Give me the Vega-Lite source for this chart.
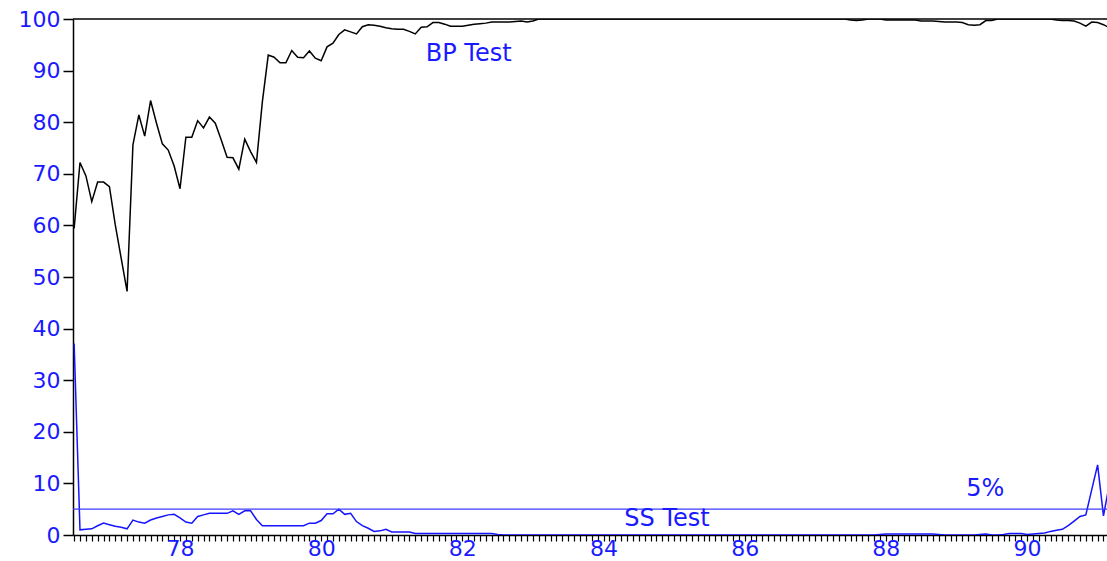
{
  "$schema": "https://vega.github.io/schema/vega-lite/v6.json",
  "width": 1034,
  "height": 516,
  "autosize": "none",
  "padding": {"left": 73, "top": 19, "right": 0, "bottom": 26},
  "background": "white",
  "config": {"view": {"stroke": null}, "axis": {"grid": false, "title": null}},
  "datasets": {
    "series": [
      {"t": 76.5, "bp": 59.4, "ss": 37.1},
      {"t": 76.583, "bp": 72.2, "ss": 1.0},
      {"t": 76.667, "bp": 69.6, "ss": 1.1},
      {"t": 76.75, "bp": 64.6, "ss": 1.2},
      {"t": 76.833, "bp": 68.4, "ss": 1.8},
      {"t": 76.917, "bp": 68.4, "ss": 2.3},
      {"t": 77, "bp": 67.5, "ss": 2.0},
      {"t": 77.083, "bp": 60.1, "ss": 1.7},
      {"t": 77.167, "bp": 53.6, "ss": 1.5},
      {"t": 77.25, "bp": 47.2, "ss": 1.2},
      {"t": 77.333, "bp": 75.6, "ss": 2.9},
      {"t": 77.417, "bp": 81.4, "ss": 2.5},
      {"t": 77.5, "bp": 77.3, "ss": 2.3},
      {"t": 77.583, "bp": 84.2, "ss": 2.9},
      {"t": 77.667, "bp": 79.8, "ss": 3.3},
      {"t": 77.75, "bp": 75.8, "ss": 3.6},
      {"t": 77.833, "bp": 74.6, "ss": 3.9},
      {"t": 77.917, "bp": 71.5, "ss": 4.0},
      {"t": 78, "bp": 67.1, "ss": 3.3},
      {"t": 78.083, "bp": 77.1, "ss": 2.5},
      {"t": 78.167, "bp": 77.1, "ss": 2.3},
      {"t": 78.25, "bp": 80.3, "ss": 3.6},
      {"t": 78.333, "bp": 78.9, "ss": 3.9},
      {"t": 78.417, "bp": 81.0, "ss": 4.2},
      {"t": 78.5, "bp": 79.8, "ss": 4.2},
      {"t": 78.583, "bp": 76.6, "ss": 4.2},
      {"t": 78.667, "bp": 73.2, "ss": 4.2},
      {"t": 78.75, "bp": 73.1, "ss": 4.7},
      {"t": 78.833, "bp": 70.9, "ss": 4.0},
      {"t": 78.917, "bp": 76.7, "ss": 4.7},
      {"t": 79, "bp": 74.3, "ss": 4.7},
      {"t": 79.083, "bp": 72.2, "ss": 3.0},
      {"t": 79.167, "bp": 84.0, "ss": 1.8},
      {"t": 79.25, "bp": 93.0, "ss": 1.8},
      {"t": 79.333, "bp": 92.6, "ss": 1.8},
      {"t": 79.417, "bp": 91.5, "ss": 1.8},
      {"t": 79.5, "bp": 91.5, "ss": 1.8},
      {"t": 79.583, "bp": 93.9, "ss": 1.8},
      {"t": 79.667, "bp": 92.6, "ss": 1.8},
      {"t": 79.75, "bp": 92.5, "ss": 1.8},
      {"t": 79.833, "bp": 93.8, "ss": 2.3},
      {"t": 79.917, "bp": 92.4, "ss": 2.3},
      {"t": 80, "bp": 91.9, "ss": 2.8},
      {"t": 80.083, "bp": 94.6, "ss": 4.1},
      {"t": 80.167, "bp": 95.3, "ss": 4.1},
      {"t": 80.25, "bp": 97.0, "ss": 5.0},
      {"t": 80.333, "bp": 97.9, "ss": 4.0},
      {"t": 80.417, "bp": 97.5, "ss": 4.2},
      {"t": 80.5, "bp": 97.1, "ss": 2.6},
      {"t": 80.583, "bp": 98.5, "ss": 1.8},
      {"t": 80.667, "bp": 98.9, "ss": 1.3},
      {"t": 80.75, "bp": 98.8, "ss": 0.7},
      {"t": 80.833, "bp": 98.6, "ss": 0.8},
      {"t": 80.917, "bp": 98.3, "ss": 1.1},
      {"t": 81, "bp": 98.1, "ss": 0.6},
      {"t": 81.083, "bp": 98.0, "ss": 0.6},
      {"t": 81.167, "bp": 98.0, "ss": 0.6},
      {"t": 81.25, "bp": 97.6, "ss": 0.6},
      {"t": 81.333, "bp": 97.1, "ss": 0.3},
      {"t": 81.417, "bp": 98.4, "ss": 0.3},
      {"t": 81.5, "bp": 98.5, "ss": 0.3},
      {"t": 81.583, "bp": 99.3, "ss": 0.3},
      {"t": 81.667, "bp": 99.3, "ss": 0.3},
      {"t": 81.75, "bp": 99.0, "ss": 0.3},
      {"t": 81.833, "bp": 98.6, "ss": 0.3},
      {"t": 81.917, "bp": 98.6, "ss": 0.3},
      {"t": 82, "bp": 98.6, "ss": 0.3},
      {"t": 82.083, "bp": 98.8, "ss": 0.3},
      {"t": 82.167, "bp": 99.0, "ss": 0.3},
      {"t": 82.25, "bp": 99.1, "ss": 0.3},
      {"t": 82.333, "bp": 99.2, "ss": 0.3},
      {"t": 82.417, "bp": 99.4, "ss": 0.3},
      {"t": 82.5, "bp": 99.4, "ss": 0.1},
      {"t": 82.583, "bp": 99.4, "ss": 0},
      {"t": 82.667, "bp": 99.4, "ss": 0},
      {"t": 82.75, "bp": 99.5, "ss": 0},
      {"t": 82.833, "bp": 99.6, "ss": 0},
      {"t": 82.917, "bp": 99.4, "ss": 0},
      {"t": 83, "bp": 99.6, "ss": 0},
      {"t": 83.083, "bp": 100, "ss": 0},
      {"t": 83.167, "bp": 100, "ss": 0},
      {"t": 83.25, "bp": 100, "ss": 0},
      {"t": 83.333, "bp": 100, "ss": 0},
      {"t": 83.417, "bp": 100, "ss": 0},
      {"t": 83.5, "bp": 100, "ss": 0},
      {"t": 83.583, "bp": 100, "ss": 0},
      {"t": 83.667, "bp": 100, "ss": 0},
      {"t": 83.75, "bp": 100, "ss": 0},
      {"t": 83.833, "bp": 100, "ss": 0},
      {"t": 83.917, "bp": 100, "ss": 0},
      {"t": 84, "bp": 100, "ss": 0},
      {"t": 84.083, "bp": 100, "ss": 0},
      {"t": 84.167, "bp": 100, "ss": 0},
      {"t": 84.25, "bp": 100, "ss": 0},
      {"t": 84.333, "bp": 100, "ss": 0},
      {"t": 84.417, "bp": 100, "ss": 0},
      {"t": 84.5, "bp": 100, "ss": 0},
      {"t": 84.583, "bp": 100, "ss": 0},
      {"t": 84.667, "bp": 100, "ss": 0},
      {"t": 84.75, "bp": 100, "ss": 0},
      {"t": 84.833, "bp": 100, "ss": 0},
      {"t": 84.917, "bp": 100, "ss": 0},
      {"t": 85, "bp": 100, "ss": 0},
      {"t": 85.083, "bp": 100, "ss": 0},
      {"t": 85.167, "bp": 100, "ss": 0},
      {"t": 85.25, "bp": 100, "ss": 0},
      {"t": 85.333, "bp": 100, "ss": 0},
      {"t": 85.417, "bp": 100, "ss": 0},
      {"t": 85.5, "bp": 100, "ss": 0},
      {"t": 85.583, "bp": 100, "ss": 0},
      {"t": 85.667, "bp": 100, "ss": 0},
      {"t": 85.75, "bp": 100, "ss": 0},
      {"t": 85.833, "bp": 100, "ss": 0},
      {"t": 85.917, "bp": 100, "ss": 0},
      {"t": 86, "bp": 100, "ss": 0},
      {"t": 86.083, "bp": 100, "ss": 0},
      {"t": 86.167, "bp": 100, "ss": 0},
      {"t": 86.25, "bp": 100, "ss": 0},
      {"t": 86.333, "bp": 100, "ss": 0},
      {"t": 86.417, "bp": 100, "ss": 0},
      {"t": 86.5, "bp": 100, "ss": 0},
      {"t": 86.583, "bp": 100, "ss": 0},
      {"t": 86.667, "bp": 100, "ss": 0},
      {"t": 86.75, "bp": 100, "ss": 0},
      {"t": 86.833, "bp": 100, "ss": 0},
      {"t": 86.917, "bp": 100, "ss": 0},
      {"t": 87, "bp": 100, "ss": 0},
      {"t": 87.083, "bp": 100, "ss": 0},
      {"t": 87.167, "bp": 100, "ss": 0},
      {"t": 87.25, "bp": 100, "ss": 0},
      {"t": 87.333, "bp": 100, "ss": 0},
      {"t": 87.417, "bp": 100, "ss": 0},
      {"t": 87.5, "bp": 99.8, "ss": 0},
      {"t": 87.583, "bp": 99.7, "ss": 0},
      {"t": 87.667, "bp": 99.8, "ss": 0},
      {"t": 87.75, "bp": 100, "ss": 0},
      {"t": 87.833, "bp": 100, "ss": 0},
      {"t": 87.917, "bp": 100, "ss": 0.1},
      {"t": 88, "bp": 99.8, "ss": 0.2},
      {"t": 88.083, "bp": 99.8, "ss": 0.2},
      {"t": 88.167, "bp": 99.8, "ss": 0.2},
      {"t": 88.25, "bp": 99.8, "ss": 0.2},
      {"t": 88.333, "bp": 99.8, "ss": 0.2},
      {"t": 88.417, "bp": 99.8, "ss": 0.2},
      {"t": 88.5, "bp": 99.6, "ss": 0.2},
      {"t": 88.583, "bp": 99.6, "ss": 0.2},
      {"t": 88.667, "bp": 99.6, "ss": 0.2},
      {"t": 88.75, "bp": 99.5, "ss": 0.1},
      {"t": 88.833, "bp": 99.4, "ss": 0},
      {"t": 88.917, "bp": 99.4, "ss": 0},
      {"t": 89, "bp": 99.4, "ss": 0},
      {"t": 89.083, "bp": 99.3, "ss": 0},
      {"t": 89.167, "bp": 98.9, "ss": 0},
      {"t": 89.25, "bp": 98.8, "ss": 0},
      {"t": 89.333, "bp": 98.9, "ss": 0.1},
      {"t": 89.417, "bp": 99.7, "ss": 0.2},
      {"t": 89.5, "bp": 99.7, "ss": 0},
      {"t": 89.583, "bp": 100, "ss": 0},
      {"t": 89.667, "bp": 100, "ss": 0.1},
      {"t": 89.75, "bp": 100, "ss": 0.3},
      {"t": 89.833, "bp": 100, "ss": 0.3},
      {"t": 89.917, "bp": 100, "ss": 0.3},
      {"t": 90, "bp": 100, "ss": 0.1},
      {"t": 90.083, "bp": 100, "ss": 0.2},
      {"t": 90.167, "bp": 100, "ss": 0.3},
      {"t": 90.25, "bp": 100, "ss": 0.4},
      {"t": 90.333, "bp": 100, "ss": 0.7},
      {"t": 90.417, "bp": 99.8, "ss": 0.9},
      {"t": 90.5, "bp": 99.7, "ss": 1.1},
      {"t": 90.583, "bp": 99.7, "ss": 1.8},
      {"t": 90.667, "bp": 99.6, "ss": 2.7},
      {"t": 90.75, "bp": 99.2, "ss": 3.6},
      {"t": 90.833, "bp": 98.6, "ss": 3.9},
      {"t": 90.917, "bp": 99.4, "ss": 8.8},
      {"t": 91, "bp": 99.3, "ss": 13.6},
      {"t": 91.083, "bp": 98.9, "ss": 3.7},
      {"t": 91.167, "bp": 98.3, "ss": 9.9}
    ],
    "labels": [
      {"lx": 82.09, "ly": 93.2, "label": "BP Test"},
      {"lx": 84.9, "ly": 3.1, "label": "SS Test"},
      {"lx": 89.41, "ly": 8.9, "label": "5%"}
    ],
    "refs": [
      {"level": 5, "kind": "threshold"},
      {"level": 100, "kind": "frame"}
    ]
  },
  "layer": [
    {
      "data": {"name": "series"},
      "transform": [{"fold": ["bp", "ss"], "as": ["test", "value"]}],
      "mark": {"type": "line", "strokeWidth": 1.5, "clip": true},
      "encoding": {
        "x": {
          "field": "t",
          "type": "quantitative",
          "scale": {"domain": [76.484, 91.133], "nice": false, "zero": false},
          "axis": {
            "values": [76.5,76.583,76.667,76.75,76.833,76.917,77,77.083,77.167,77.25,77.333,77.417,77.5,77.583,77.667,77.75,77.833,77.917,78,78.083,78.167,78.25,78.333,78.417,78.5,78.583,78.667,78.75,78.833,78.917,79,79.083,79.167,79.25,79.333,79.417,79.5,79.583,79.667,79.75,79.833,79.917,80,80.083,80.167,80.25,80.333,80.417,80.5,80.583,80.667,80.75,80.833,80.917,81,81.083,81.167,81.25,81.333,81.417,81.5,81.583,81.667,81.75,81.833,81.917,82,82.083,82.167,82.25,82.333,82.417,82.5,82.583,82.667,82.75,82.833,82.917,83,83.083,83.167,83.25,83.333,83.417,83.5,83.583,83.667,83.75,83.833,83.917,84,84.083,84.167,84.25,84.333,84.417,84.5,84.583,84.667,84.75,84.833,84.917,85,85.083,85.167,85.25,85.333,85.417,85.5,85.583,85.667,85.75,85.833,85.917,86,86.083,86.167,86.25,86.333,86.417,86.5,86.583,86.667,86.75,86.833,86.917,87,87.083,87.167,87.25,87.333,87.417,87.5,87.583,87.667,87.75,87.833,87.917,88,88.083,88.167,88.25,88.333,88.417,88.5,88.583,88.667,88.75,88.833,88.917,89,89.083,89.167,89.25,89.333,89.417,89.5,89.583,89.667,89.75,89.833,89.917,90,90.083,90.167,90.25,90.333,90.417,90.5,90.583,90.667,90.75,90.833,90.917,91,91.083],
            "tickCount": 400,
            "tickMinStep": 0.01,
            "labelExpr": "datum.value % 2 === 0 ? format(datum.value, 'd') : ''",
            "labelOverlap": false,
            "labelFlush": false,
            "tickSize": 6,
            "tickWidth": 1.2,
            "tickColor": "black",
            "domainColor": "black",
            "domainWidth": 1.5,
            "labelFont": "DejaVu Sans",
            "labelFontSize": 22,
            "labelColor": "#1a1aff",
            "labelPadding": -3,
            "title": null,
            "grid": false
          }
        },
        "y": {
          "field": "value",
          "type": "quantitative",
          "scale": {"domain": [0, 100], "nice": false},
          "axis": {
            "values": [0, 10, 20, 30, 40, 50, 60, 70, 80, 90, 100],
            "tickCount": 20,
            "tickSize": 10,
            "tickWidth": 1.5,
            "tickColor": "black",
            "domainColor": "black",
            "domainWidth": 1.5,
            "labelFont": "DejaVu Sans",
            "labelFontSize": 22,
            "labelColor": "#1a1aff",
            "labelPadding": 3,
            "title": null,
            "grid": false
          }
        },
        "color": {
          "field": "test",
          "type": "nominal",
          "scale": {"domain": ["bp", "ss"], "range": ["#000000", "#1414ff"]},
          "legend": null
        }
      }
    },
    {
      "data": {"name": "refs"},
      "mark": {"type": "rule", "strokeWidth": 1.3},
      "encoding": {
        "y": {"field": "level", "type": "quantitative"},
        "stroke": {
          "field": "kind",
          "type": "nominal",
          "scale": {"domain": ["threshold", "frame"], "range": ["#3c3cff", "#000000"]},
          "legend": null
        }
      }
    },
    {
      "data": {"name": "labels"},
      "mark": {"type": "text", "font": "DejaVu Sans", "fontSize": 24, "color": "#1a1aff", "align": "center", "baseline": "middle"},
      "encoding": {
        "x": {"field": "lx", "type": "quantitative"},
        "y": {"field": "ly", "type": "quantitative"},
        "text": {"field": "label"}
      }
    }
  ]
}
